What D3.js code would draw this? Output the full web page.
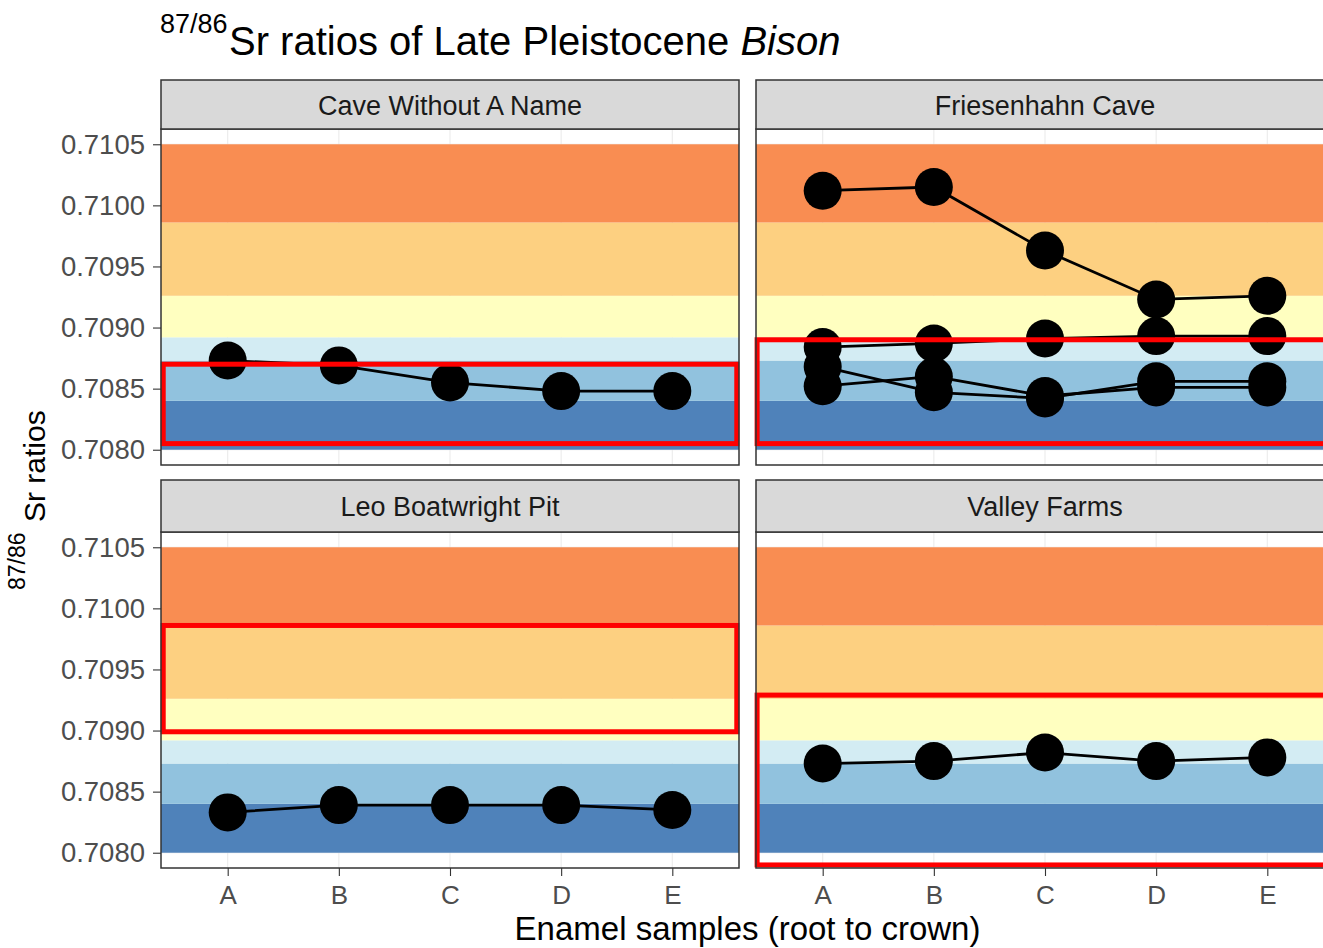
<!DOCTYPE html>
<html>
<head>
<meta charset="utf-8">
<script src="https://cdn.jsdelivr.net/npm/d3@7"></script>
<style>
  body { margin: 0; background: #fff; }
  text { font-family: "Liberation Sans", Arial, sans-serif; }
</style>
</head>
<body>
<div id="chart"></div>
<script>
// enamel sample positions, root to crown
var samples = ['A', 'B', 'C', 'D', 'E'];
var sites = ['Cave Without A Name', 'Friesenhahn Cave', 'Leo Boatwright Pit', 'Valley Farms'];
var yTicks = [0.7080, 0.7085, 0.7090, 0.7095, 0.7100, 0.7105];

// 87/86 Sr per individual
var cwanSr = [0.70873, 0.70869, 0.70855, 0.70848, 0.70848];
var friesenhahnSr1 = [0.71012, 0.71015, 0.70963, 0.70923, 0.70926];
var friesenhahnSr2 = [0.70884, 0.70887, 0.70891, 0.70893, 0.70893];
var friesenhahnSr3 = [0.70868, 0.70847, 0.70842, 0.70856, 0.70856];
var friesenhahnSr4 = [0.70852, 0.70860, 0.70844, 0.70851, 0.70851];
var leoSr = [0.70833, 0.70839, 0.70839, 0.70839, 0.70835];
var valleySr = [0.70873, 0.70875, 0.70882, 0.70875, 0.70878];

// background bands of the Sr isoscape
var bandBreaks = [0.7080, 0.7084, 0.70873, 0.70892, 0.70926, 0.70986, 0.7105];
var bandColors = ['#4f82ba', '#91c2de', '#d3ecf3', '#ffffc0', '#fdd081', '#f98d52'];

// highlighted range per site: [xmin, xmax, ymin, ymax]
var boxCwan = [0.42, 5.58, 0.70805, 0.70870];
var boxFriesenhahn = [0.41, 5.7, 0.70805, 0.70890];
var boxLeo = [0.42, 5.58, 0.70899, 0.70986];
var boxValley = [0.41, 5.7, 0.70790, 0.70929];

var siteSeries = [
    [cwanSr],
    [friesenhahnSr1, friesenhahnSr2, friesenhahnSr3, friesenhahnSr4],
    [leoSr],
    [valleySr]
];
var siteBoxes = [boxCwan, boxFriesenhahn, boxLeo, boxValley];

var W = 1323, H = 948;
var colX = [161, 756], panelW = 578;
var stripTop = [80, 480], panelTop = [129, 532], panelH = 336;

var svg = d3.select('#chart').append('svg')
    .attr('width', W).attr('height', H);

// title
svg.append('text').attr('x', 160).attr('y', 33)
    .style('font-size', '27px').attr('fill', '#000').text('87/86');
var title = svg.append('text').attr('x', 229).attr('y', 55)
    .style('font-size', '40px').attr('fill', '#000');
title.append('tspan').text('Sr ratios of Late Pleistocene ');
title.append('tspan').style('font-style', 'italic').text('Bison');

sites.forEach(function (site, i) {
    var col = i % 2, row = Math.floor(i / 2);
    var x0 = colX[col], y0 = panelTop[row];

    var x = d3.scaleLinear().domain([0.4, 5.6]).range([x0, x0 + panelW]);
    var y = d3.scaleLinear().domain([0.707875, 0.710625]).range([y0 + panelH, y0]);

    var g = svg.append('g');

    g.append('rect').attr('x', x0).attr('y', y0).attr('width', panelW).attr('height', panelH)
        .attr('fill', '#fff');

    // grid
    g.selectAll('.vg').data(samples).enter().append('line')
        .attr('x1', function (d, k) { return x(k + 1); })
        .attr('x2', function (d, k) { return x(k + 1); })
        .attr('y1', y0).attr('y2', y0 + panelH)
        .attr('stroke', '#ebebeb').attr('stroke-width', 1.1);
    g.selectAll('.hg').data(yTicks).enter().append('line')
        .attr('x1', x0).attr('x2', x0 + panelW)
        .attr('y1', function (d) { return y(d); }).attr('y2', function (d) { return y(d); })
        .attr('stroke', '#ebebeb').attr('stroke-width', 1.1);

    // bands
    g.selectAll('.band').data(bandColors).enter().append('rect')
        .attr('x', x0).attr('width', panelW)
        .attr('y', function (d, k) { return y(bandBreaks[k + 1]); })
        .attr('height', function (d, k) { return y(bandBreaks[k]) - y(bandBreaks[k + 1]); })
        .attr('fill', function (d) { return d; });

    // lines and points
    var line = d3.line()
        .x(function (d, k) { return x(k + 1); })
        .y(function (d) { return y(d); });
    siteSeries[i].forEach(function (vals) {
        g.append('path').datum(vals).attr('d', line)
            .attr('fill', 'none').attr('stroke', '#000').attr('stroke-width', 2.8);
    });
    siteSeries[i].forEach(function (vals) {
        g.selectAll(null).data(vals).enter().append('circle')
            .attr('cx', function (d, k) { return x(k + 1); })
            .attr('cy', function (d) { return y(d); })
            .attr('r', 19).attr('fill', '#000');
    });

    // highlight box
    var b = siteBoxes[i];
    g.append('rect')
        .attr('x', x(b[0])).attr('y', y(b[3]))
        .attr('width', x(b[1]) - x(b[0])).attr('height', y(b[2]) - y(b[3]))
        .attr('fill', 'none').attr('stroke', '#ff0000').attr('stroke-width', 5);

    // panel border
    g.append('rect').attr('x', x0).attr('y', y0).attr('width', panelW).attr('height', panelH)
        .attr('fill', 'none').attr('stroke', '#333').attr('stroke-width', 1.5);

    // strip
    g.append('rect').attr('x', x0).attr('y', stripTop[row])
        .attr('width', panelW).attr('height', y0 - stripTop[row])
        .attr('fill', '#d9d9d9').attr('stroke', '#333').attr('stroke-width', 1.5);
    g.append('text').attr('x', x0 + panelW / 2).attr('y', (stripTop[row] + y0) / 2 + 10)
        .attr('text-anchor', 'middle').style('font-size', '27px').attr('fill', '#1a1a1a')
        .text(site);

    // axes
    if (col === 0) {
        var ya = g.append('g').attr('transform', 'translate(' + x0 + ',0)')
            .call(d3.axisLeft(y).tickValues(yTicks).tickFormat(d3.format('.4f'))
                .tickSize(8).tickPadding(8));
        ya.select('.domain').remove();
        ya.selectAll('line').attr('stroke', '#333').attr('stroke-width', 1.1);
        ya.selectAll('text').style('font-size', '27.5px').attr('fill', '#4d4d4d')
            .style('font-family', '"Liberation Sans", Arial, sans-serif');
    }
    if (row === 1) {
        var xa = g.append('g').attr('transform', 'translate(0,' + (y0 + panelH) + ')')
            .call(d3.axisBottom(x).tickValues([1, 2, 3, 4, 5])
                .tickFormat(function (d) { return samples[d - 1]; })
                .tickSize(8).tickPadding(10));
        xa.select('.domain').remove();
        xa.selectAll('line').attr('stroke', '#333').attr('stroke-width', 1.1);
        xa.selectAll('text').style('font-size', '26px').attr('fill', '#4d4d4d')
            .style('font-family', '"Liberation Sans", Arial, sans-serif');
    }
});

// axis titles
svg.append('text').attr('x', 747.5).attr('y', 940).attr('text-anchor', 'middle')
    .style('font-size', '33px').attr('fill', '#000').text('Enamel samples (root to crown)');
svg.append('text').attr('transform', 'translate(45,522) rotate(-90)')
    .style('font-size', '30px').attr('fill', '#000').text('Sr ratios');
svg.append('text').attr('transform', 'translate(25,590) rotate(-90)')
    .style('font-size', '23px').attr('fill', '#000').text('87/86');
</script>
</body>
</html>
